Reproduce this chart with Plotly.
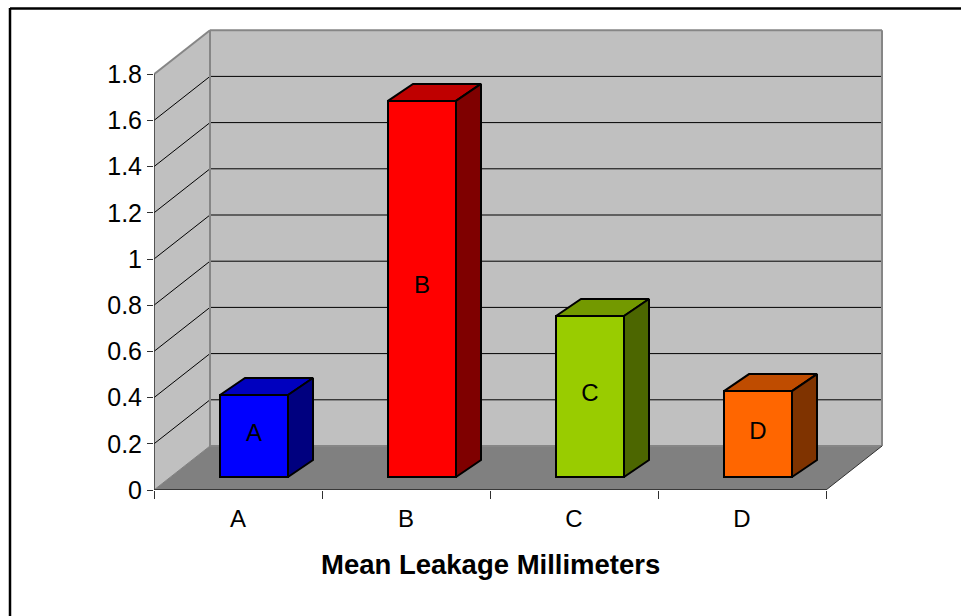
import plotly.graph_objects as go

categories = ["A", "B", "C", "D"]
values = [0.355, 1.628, 0.697, 0.372]
y_ticks = [0, 0.2, 0.4, 0.6, 0.8, 1, 1.2, 1.4, 1.6, 1.8]
y_tick_labels = ["0", "0.2", "0.4", "0.6", "0.8", "1", "1.2", "1.4", "1.6", "1.8"]
bar_colors = ["#0000FF", "#FF0000", "#99CC00", "#FF6600"]
top_colors = ["#0000BF", "#BF0000", "#739900", "#BF4C00"]
side_colors = ["#00007F", "#7F0000", "#4C6600", "#7F3300"]
x_title = "Mean Leakage Millimeters"

W, H = 961, 616
L, R, T, B = 154, 885, 20, 490
PX_X = 168.0          # pixels per category
PX_Y = 231.0          # pixels per value unit
X0 = -0.5
X1 = X0 + (R - L) / PX_X
Y1 = (B - T) / PX_Y
WALL_DX = 56.0 / PX_X  # depth of the chart box
WALL_DY = 44.0 / PX_Y
FRONT_DX = 16.0 / PX_X  # bar front plane shift
FRONT_DY = 13.0 / PX_Y
BAR_W = 68.0 / PX_X
BAR_DX = 25.0 / PX_X   # bar depth
BAR_DY = 17.0 / PX_Y
YMAX = y_ticks[-1]
XEND = X0 + len(categories)
FONT = "Liberation Sans"


def px(x):
    return (x - L) / (R - L)


def py(y):
    return (B - y) / (B - T)


def poly(pts, fill, line=None, width=0, layer="below"):
    path = "M " + " L ".join(f"{a},{b}" for a, b in pts) + " Z"
    return dict(type="path", path=path, xref="x", yref="y", fillcolor=fill, layer=layer,
                line=dict(color=line or fill, width=width))


def seg(x0, y0, x1, y1, color, width):
    return dict(type="line", xref="x", yref="y", x0=x0, y0=y0, x1=x1, y1=y1, layer="below",
                line=dict(color=color, width=width))


shapes = [
    poly([(X0, 0), (X0, YMAX), (X0 + WALL_DX, YMAX + WALL_DY), (X0 + WALL_DX, WALL_DY)], "#C0C0C0"),
    poly([(X0 + WALL_DX, WALL_DY), (X0 + WALL_DX, YMAX + WALL_DY), (XEND + WALL_DX, YMAX + WALL_DY),
          (XEND + WALL_DX, WALL_DY)], "#C0C0C0"),
    poly([(X0, 0), (XEND, 0), (XEND + WALL_DX, WALL_DY), (X0 + WALL_DX, WALL_DY)], "#808080"),
]
for v in y_ticks[1:-1]:
    shapes.append(seg(X0, v, X0 + WALL_DX, v + WALL_DY, "#000000", 1))
    shapes.append(seg(X0 + WALL_DX, v + WALL_DY, XEND + WALL_DX, v + WALL_DY, "#000000", 1))
gray = "#868686"
shapes += [
    seg(X0, YMAX, X0 + WALL_DX, YMAX + WALL_DY, gray, 2),
    seg(X0 + WALL_DX, YMAX + WALL_DY, XEND + WALL_DX, YMAX + WALL_DY, gray, 2),
    seg(X0 + WALL_DX, WALL_DY, X0 + WALL_DX, YMAX + WALL_DY, gray, 2),
    seg(XEND + WALL_DX, WALL_DY, XEND + WALL_DX, YMAX + WALL_DY, gray, 2),
    seg(X0 + WALL_DX, WALL_DY, XEND + WALL_DX, WALL_DY, gray, 2),
    seg(X0, 0, X0 + WALL_DX, WALL_DY, "#808080", 1),
    seg(XEND, 0, XEND + WALL_DX, WALL_DY, "#303030", 1),
    seg(X0, 0, XEND, 0, "#202020", 1.5),
    seg(X0, 0, X0, YMAX, "#303030", 1.5),
    # outer frame of the picture
    dict(type="line", xref="paper", yref="paper", x0=px(10), x1=px(W), y0=py(8.5), y1=py(8.5),
         line=dict(color="#000000", width=2.5), layer="above"),
    dict(type="line", xref="paper", yref="paper", x0=px(10), x1=px(10), y0=py(8), y1=py(H),
         line=dict(color="#000000", width=2.5), layer="above"),
]

fig = go.Figure()
bar_x = [i + FRONT_DX for i in range(len(categories))]
fig.add_trace(go.Bar(
    x=bar_x, y=values, base=[FRONT_DY] * len(values), width=BAR_W,
    marker=dict(color=bar_colors, line=dict(color="#000000", width=2)),
    showlegend=False, hoverinfo="skip",
))
for i, v in enumerate(values):
    l = bar_x[i] - BAR_W / 2
    r = bar_x[i] + BAR_W / 2
    t = v + FRONT_DY
    b = FRONT_DY
    fig.add_trace(go.Scatter(
        x=[l, r, r + BAR_DX, l + BAR_DX, l], y=[t, t, t + BAR_DY, t + BAR_DY, t],
        mode="lines", fill="toself", fillcolor=top_colors[i],
        line=dict(color="#000000", width=2), showlegend=False, hoverinfo="skip"))
    fig.add_trace(go.Scatter(
        x=[r, r + BAR_DX, r + BAR_DX, r, r], y=[t, t + BAR_DY, b + BAR_DY, b, t],
        mode="lines", fill="toself", fillcolor=side_colors[i],
        line=dict(color="#000000", width=2), showlegend=False, hoverinfo="skip"))
fig.add_trace(go.Scatter(
    x=bar_x, y=[FRONT_DY + v / 2 + 1.5 / PX_Y for v in values], text=categories,
    mode="text", textposition="middle center",
    textfont=dict(family=FONT, size=24, color="#000000"), showlegend=False, hoverinfo="skip"))

fig.update_layout(
    width=W, height=H, autosize=False,
    margin=dict(l=L, r=W - R, t=T, b=H - B, pad=0),
    paper_bgcolor="#FFFFFF", plot_bgcolor="#FFFFFF",
    font=dict(family=FONT, color="#000000"),
    shapes=shapes, showlegend=False,
    annotations=[dict(
        text=f"<b>{x_title}</b>", x=(X0 + XEND) / 2, xref="x", y=py(564), yref="paper",
        xanchor="center", yanchor="middle", showarrow=False,
        font=dict(size=27.5, family=FONT, color="#000000"))],
    xaxis=dict(
        range=[X0, X1], showgrid=False, zeroline=False, showline=False,
        tickmode="array", tickvals=list(range(len(categories))), ticktext=categories,
        ticks="", tickfont=dict(size=24, family=FONT), ticklabelstandoff=12,
        minor=dict(tickmode="array", tickvals=[X0 + i for i in range(len(categories) + 1)],
                   ticks="outside", ticklen=8, tickwidth=1, tickcolor="#303030", showgrid=False),
    ),
    yaxis=dict(
        range=[0, Y1], showgrid=False, zeroline=False, showline=False,
        tickmode="array", tickvals=y_ticks, ticktext=y_tick_labels,
        ticks="outside", ticklen=6, tickwidth=1, tickcolor="#303030",
        tickfont=dict(size=25, family=FONT),
    ),
)
fig.write_html("out.html", config={"displayModeBar": False},
               post_script="document.body.style.margin='0';document.body.style.overflow='hidden';")
